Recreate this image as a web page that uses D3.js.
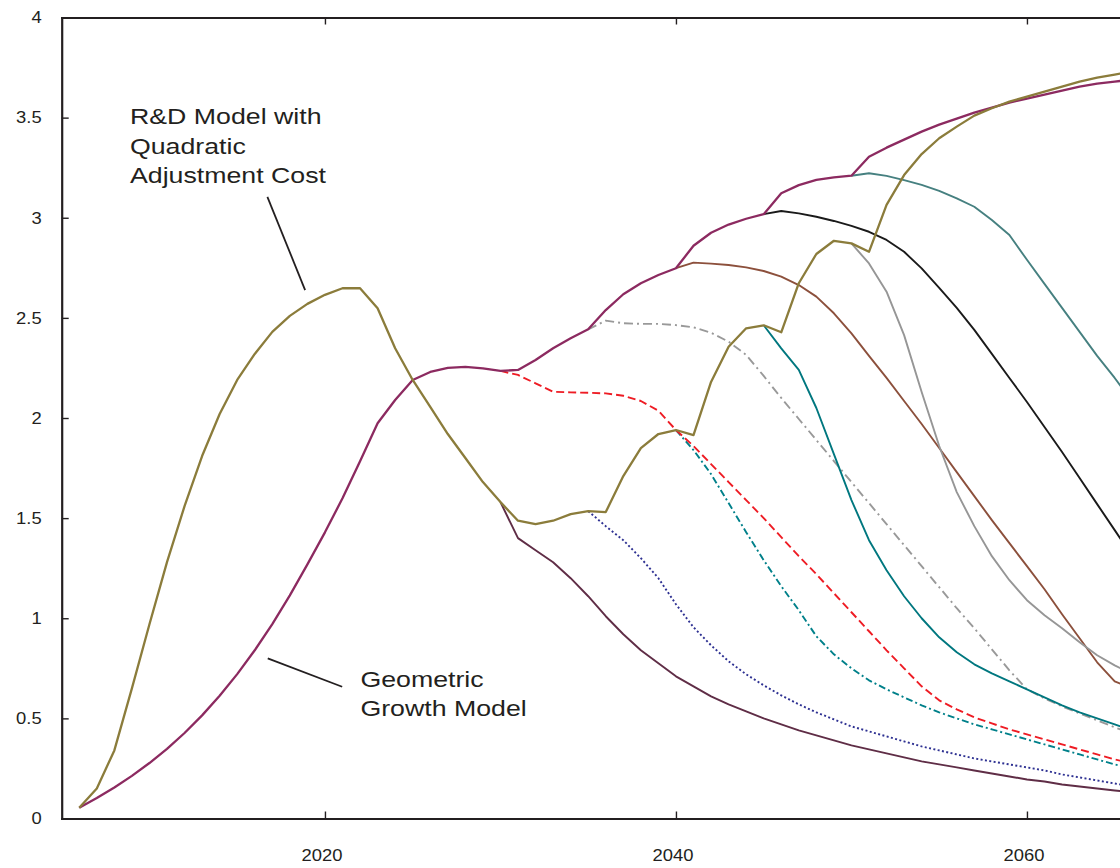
<!DOCTYPE html>
<html><head><meta charset="utf-8">
<script src="https://cdn.jsdelivr.net/npm/d3@7"></script>
<style>
html,body{margin:0;padding:0;background:#fff;overflow:hidden}
svg{display:block}
text{font-family:"Liberation Sans",Arial,Helvetica,sans-serif;fill:#231f20}
</style></head><body>
<svg id="chart" width="1120" height="868"></svg>
<script>
// ---------- data ----------
const xTicks = [2020, 2040, 2060];
const yTicks = [0, 0.5, 1, 1.5, 2, 2.5, 3, 3.5, 4];
const yTickLabels = ["0", "0.5", "1", "1.5", "2", "2.5", "3", "3.5", "4"];

// base paths, yearly from 2006 to 2066
const baseStart = 2006;
const geometricModel = [0.054,0.102,0.155,0.213,0.277,0.348,0.427,0.515,0.613,0.721,0.840,0.971,1.114,1.269,1.429,1.599,1.784,1.974,2.09,2.19,
  2.23,2.25,2.255,2.248,2.235,2.24,2.29,2.348,2.398,2.443,2.539,2.618,2.673,2.714,2.748,2.86,2.925,2.966,2.995,3.018,
  3.122,3.163,3.189,3.202,3.21,3.305,3.35,3.39,3.43,3.465,3.495,3.525,3.55,3.575,3.595,3.615,3.635,3.655,3.67,3.68,3.69];
const rdModel = [0.054,0.15,0.34,0.65,0.97,1.28,1.56,1.81,2.02,2.19,2.32,2.43,2.51,2.57,2.615,2.648,2.648,2.548,2.348,2.19,
  2.056,1.92,1.80,1.68,1.58,1.487,1.47,1.487,1.52,1.535,1.53,1.71,1.85,1.92,1.94,1.915,2.18,2.356,2.448,2.463,
  2.428,2.673,2.819,2.885,2.872,2.83,3.064,3.213,3.318,3.397,3.455,3.51,3.547,3.58,3.605,3.63,3.655,3.68,3.70,3.715,3.73];

// branches of the geometric growth model
const geoStop2030 = [2.235,2.215,2.173,2.131,2.128,2.126,2.123,2.111,2.085,2.036,1.94,1.86,1.77,1.68,1.59,1.50,1.405,1.31,1.22,
  1.125,1.03,0.935,0.84,0.75,0.66,0.59,0.545,0.505,0.475,0.445,0.42,0.395,0.37,0.345,0.32,0.295,0.275];
const geoStop2035 = [2.443,2.486,2.473,2.47,2.47,2.464,2.453,2.426,2.381,2.315,2.21,2.10,1.995,1.89,1.785,1.68,1.575,1.47,
  1.365,1.26,1.155,1.05,0.95,0.845,0.74,0.645,0.60,0.56,0.525,0.49,0.455,0.425];
const geoStop2040 = [2.748,2.776,2.771,2.764,2.752,2.734,2.706,2.664,2.606,2.523,2.423,2.31,2.20,2.085,1.97,1.85,1.73,1.61,
  1.49,1.375,1.26,1.145,1.02,0.90,0.78,0.685,0.65];
const geoStop2045 = [3.018,3.034,3.022,3.005,2.984,2.959,2.93,2.889,2.83,2.747,2.65,2.55,2.44,2.32,2.20,2.08,1.955,1.83,1.70,
  1.57,1.44,1.31];
const geoStop2050 = [3.21,3.222,3.209,3.188,3.164,3.134,3.097,3.055,2.989,2.914,2.79,2.67,2.55,2.43,2.31,2.20,2.08];

// branches of the R&D model
const rdStop2030 = [1.58,1.40,1.34,1.28,1.20,1.11,1.01,0.92,0.84,0.775,0.71,0.66,0.61,0.57,0.535,0.50,0.47,0.44,0.415,0.39,
  0.365,0.345,0.325,0.305,0.285,0.27,0.255,0.24,0.225,0.21,0.195,0.185,0.17,0.16,0.15,0.14,0.13];
const rdStop2035 = [1.535,1.46,1.39,1.30,1.20,1.07,0.955,0.865,0.785,0.72,0.665,0.615,0.57,0.53,0.495,0.46,0.435,0.41,0.385,
  0.36,0.34,0.32,0.30,0.285,0.27,0.255,0.24,0.22,0.205,0.19,0.175,0.16];
const rdStop2040 = [1.94,1.84,1.72,1.575,1.43,1.29,1.16,1.04,0.91,0.82,0.75,0.69,0.645,0.605,0.565,0.53,0.50,0.47,0.445,0.42,
  0.395,0.37,0.345,0.32,0.295,0.27,0.25];
const rdStop2045 = [2.463,2.348,2.24,2.05,1.82,1.59,1.39,1.24,1.11,1.00,0.905,0.83,0.77,0.725,0.685,0.645,0.605,0.565,0.53,
  0.50,0.47,0.44];
const rdStop2050 = [2.872,2.772,2.631,2.414,2.13,1.86,1.63,1.46,1.31,1.19,1.09,1.015,0.95,0.88,0.815,0.765,0.72];

// annotations (data coordinates)
const rdLabelLines = ["R&D Model with", "Quadratic", "Adjustment Cost"];
const rdLabelAt = [2008.89, 3.468];
const rdLeader = [[2016.72, 3.104], [2018.87, 2.639]];
const geoLabelLines = ["Geometric", "Growth Model"];
const geoLabelAt = [2022.02, 0.658];
const geoLeader = [[2016.74, 0.80], [2020.98, 0.658]];

// ---------- series table (data + style) ----------
const series = [
  {values: rdStop2030,   start: 2030, color: "#5f2d46", dash: null,        w: 1.9},
  {values: rdStop2035,   start: 2035, color: "#2e3192", dash: "2,2.4",     w: 1.9},
  {values: rdStop2040,   start: 2040, color: "#00808a", dash: "7,3,2,3",   w: 1.9},
  {values: geoStop2030,  start: 2030, color: "#ee1c24", dash: "8,4",       w: 1.9},
  {values: geoStop2035,  start: 2035, color: "#999999", dash: "9,4,2,4",   w: 1.9},
  {values: rdStop2045,   start: 2045, color: "#00777f", dash: null,        w: 1.9},
  {values: geoStop2040,  start: 2040, color: "#8c503c", dash: null,        w: 1.9},
  {values: rdStop2050,   start: 2050, color: "#969696", dash: null,        w: 1.9},
  {values: geoStop2045,  start: 2045, color: "#1a1a1a", dash: null,        w: 1.9},
  {values: geoStop2050,  start: 2050, color: "#468080", dash: null,        w: 1.9},
  {values: geometricModel, start: baseStart, color: "#8c2a60", dash: null, w: 2.3},
  {values: rdModel,        start: baseStart, color: "#8b7c3b", dash: null, w: 2.3}
];

// ---------- drawing ----------
const svg = d3.select("#chart");
const x = d3.scaleLinear().domain([2005, 2080]).range([61.7, 1377.95]);
const y = d3.scaleLinear().domain([0, 4]).range([818.5, 17.5]);
const axisColor = "#231f20";

const line = d3.line().x(d => x(d[0])).y(d => y(d[1]));

svg.append("g").attr("class", "lines")
  .selectAll("path").data(series).join("path")
  .attr("d", s => line(s.values.map((v, i) => [s.start + i, v])))
  .attr("fill", "none")
  .attr("stroke", s => s.color)
  .attr("stroke-width", s => s.w)
  .attr("stroke-dasharray", s => s.dash)
  .attr("stroke-linejoin", "round");

function styleAxis(g) {
  g.select(".domain").attr("stroke", axisColor).attr("stroke-width", 2.2).attr("stroke-linecap", "square");
  g.selectAll(".tick line").attr("stroke", axisColor).attr("stroke-width", 1.4);
}

svg.append("g").attr("transform", `translate(0,${y(0)})`)
  .call(d3.axisBottom(x).tickValues(xTicks).tickSizeInner(-7).tickSizeOuter(0).tickFormat(""))
  .call(styleAxis);
svg.append("g").attr("transform", `translate(0,${y(4)})`)
  .call(d3.axisTop(x).tickValues(xTicks).tickSizeInner(-7).tickSizeOuter(0).tickFormat(""))
  .call(styleAxis);
svg.append("g").attr("transform", `translate(${x(2005)},0)`)
  .call(d3.axisLeft(y).tickValues(yTicks).tickSizeInner(-7).tickSizeOuter(0).tickFormat(""))
  .call(styleAxis);

// tick labels
svg.append("g").selectAll("text").data(xTicks).join("text")
  .attr("transform", d => `translate(${x(d) - 3},${y(0) + 42.5}) scale(1.15,1)`)
  .attr("text-anchor", "middle").attr("font-size", 16).text(d => d);
svg.append("g").selectAll("text").data(yTicks).join("text")
  .attr("transform", d => `translate(41.7,${y(d)}) scale(1.15,1)`)
  .attr("dy", "0.36em")
  .attr("text-anchor", "end").attr("font-size", 16).text((d, i) => yTickLabels[i]);

// annotations
function label(lines, at) {
  const t = svg.append("g");
  lines.forEach((s, i) => {
    t.append("text")
      .attr("transform", `translate(${x(at[0])},${y(at[1]) + i * 29.5}) scale(1.215,1)`)
      .attr("font-size", 22).text(s);
  });
}
label(rdLabelLines, rdLabelAt);
label(geoLabelLines, geoLabelAt);

[rdLeader, geoLeader].forEach(l => {
  svg.append("path").attr("d", line(l)).attr("stroke", axisColor)
    .attr("stroke-width", 1.8).attr("fill", "none");
});
</script>
</body></html>
